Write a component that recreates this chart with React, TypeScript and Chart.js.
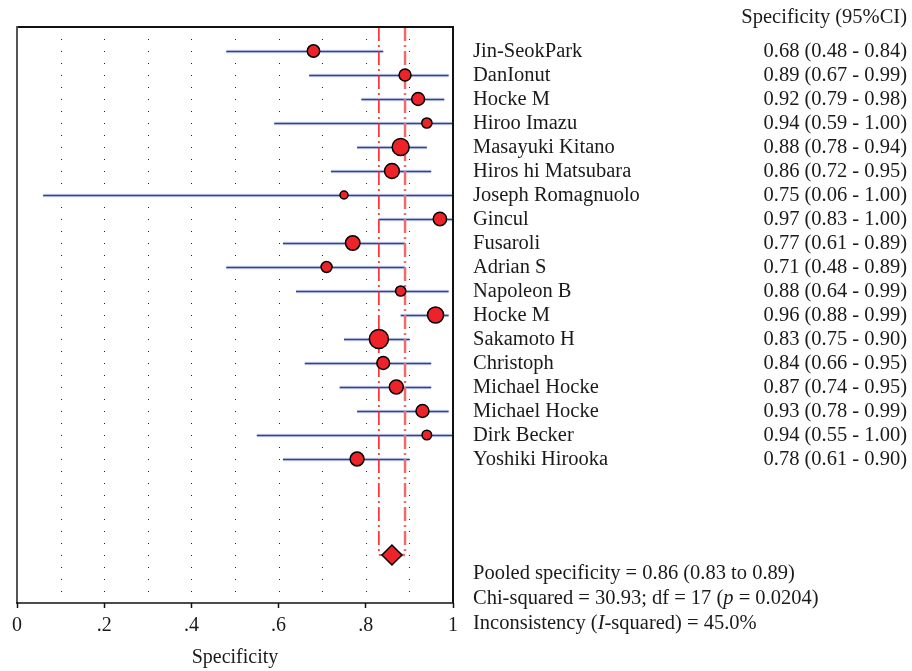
import React, { useEffect, useRef } from "react";
import { Chart, registerables } from "chart.js";

Chart.register(...registerables);

const studies = [
  "Jin-SeokPark", "DanIonut", "Hocke M", "Hiroo Imazu", "Masayuki Kitano",
  "Hiros hi Matsubara", "Joseph Romagnuolo", "Gincul", "Fusaroli", "Adrian S",
  "Napoleon B", "Hocke M", "Sakamoto H", "Christoph", "Michael Hocke",
  "Michael Hocke", "Dirk Becker", "Yoshiki Hirooka",
];
const specificity = [0.68, 0.89, 0.92, 0.94, 0.88, 0.86, 0.75, 0.97, 0.77, 0.71, 0.88, 0.96, 0.83, 0.84, 0.87, 0.93, 0.94, 0.78];
const lowerCI = [0.48, 0.67, 0.79, 0.59, 0.78, 0.72, 0.06, 0.83, 0.61, 0.48, 0.64, 0.88, 0.75, 0.66, 0.74, 0.78, 0.55, 0.61];
const upperCI = [0.84, 0.99, 0.98, 1.0, 0.94, 0.95, 1.0, 1.0, 0.89, 0.89, 0.99, 0.99, 0.9, 0.95, 0.95, 0.99, 1.0, 0.9];
// relative study weights (%)
const weights = [4.9, 4.6, 5.3, 3.5, 8.7, 6.8, 2.3, 5.6, 6.5, 3.9, 3.5, 7.9, 10.8, 5.2, 6.1, 5.3, 3.1, 6.0];

const pooled = 0.86;
const pooledLower = 0.83;
const pooledUpper = 0.89;
const pooledRow = 21;

const xTickLabels = ["0", ".2", ".4", ".6", ".8", "1"];
const headerLabel = "Specificity (95%CI)";
const axisTitle = "Specificity";
const statLines: { text: string; italic?: boolean }[][] = [
  [{ text: "Pooled specificity = 0.86 (0.83 to 0.89)" }],
  [{ text: "Chi-squared = 30.93; df = 17 (" }, { text: "p", italic: true }, { text: " = 0.0204)" }],
  [{ text: "Inconsistency (" }, { text: "I", italic: true }, { text: "-squared) = 45.0%" }],
];

const FONT = '"Liberation Serif", "Times New Roman", serif';
const RED = "#ee2229";
const TEXT_SIZE = 20.5;

const forestPlugin = {
  id: "forest",
  beforeDatasetsDraw(chart: any) {
    const { ctx, chartArea } = chart;
    const xs = chart.scales.x;
    const ys = chart.scales.y;
    ctx.save();
    // dotted vertical guides
    ctx.fillStyle = "#222";
    for (let g = 1; g <= 9; g++) {
      const px = Math.round(xs.getPixelForValue(g / 10));
      for (let r = -0.5; r <= 22.5; r += 0.5) {
        const py = Math.round(ys.getPixelForValue(r));
        ctx.fillRect(px, py, 1, 1);
      }
    }
    // CI lines
    ctx.beginPath();
    ctx.rect(chartArea.left, chartArea.top, chartArea.right - chartArea.left, chartArea.bottom - chartArea.top);
    ctx.clip();
    studies.forEach((_, i) => {
      const py = Math.round(ys.getPixelForValue(i)) + 0.5;
      const x1 = xs.getPixelForValue(lowerCI[i]);
      const x2 = xs.getPixelForValue(upperCI[i]);
      ctx.beginPath();
      ctx.strokeStyle = "rgba(170,185,225,0.5)";
      ctx.lineWidth = 3.5;
      ctx.moveTo(x1, py);
      ctx.lineTo(x2, py);
      ctx.stroke();
      ctx.beginPath();
      ctx.strokeStyle = "#2f4193";
      ctx.lineWidth = 1.3;
      ctx.moveTo(x1, py);
      ctx.lineTo(x2, py);
      ctx.stroke();
    });
    // pooled CI dashed lines
    const top = chartArea.top;
    const pyP = ys.getPixelForValue(pooledRow);
    const pxC = xs.getPixelForValue(pooled);
    const drawDash = (v: number, color: string, w: number) => {
      const px = xs.getPixelForValue(v);
      ctx.beginPath();
      ctx.strokeStyle = color;
      ctx.lineWidth = w;
      ctx.setLineDash([14, 4, 2, 4]);
      ctx.moveTo(px, top);
      ctx.lineTo(px, pyP);
      ctx.lineTo(pxC, pyP);
      ctx.stroke();
    };
    drawDash(pooledLower, "#ff1a1a", 1.5);
    drawDash(pooledUpper, "#f26a6a", 2.5);
    ctx.restore();
  },
  afterDatasetsDraw(chart: any) {
    const { ctx, chartArea } = chart;
    const { left, right, top, bottom } = chartArea;
    ctx.save();
    ctx.lineCap = "butt";
    ctx.strokeStyle = "#111";
    ctx.lineWidth = 2;
    ctx.beginPath();
    ctx.moveTo(left, top);
    ctx.lineTo(right, top);
    ctx.lineTo(right, bottom);
    ctx.stroke();
    ctx.strokeStyle = "#555";
    ctx.beginPath();
    ctx.moveTo(left, top - 1);
    ctx.lineTo(left, bottom);
    ctx.stroke();
    ctx.strokeStyle = "#111";
    ctx.lineWidth = 1.5;
    ctx.beginPath();
    ctx.moveTo(left - 1, bottom);
    ctx.lineTo(right + 1, bottom);
    ctx.stroke();
    ctx.restore();
  },
  afterDraw(chart: any) {
    const { ctx } = chart;
    const ys = chart.scales.y;
    ctx.save();
    ctx.fillStyle = "#1a1a1a";
    ctx.font = `${TEXT_SIZE}px ${FONT}`;
    ctx.textBaseline = "alphabetic";
    ctx.textAlign = "right";
    ctx.fillText(headerLabel, 907, 23);
    studies.forEach((s, i) => {
      const py = ys.getPixelForValue(i) + 6;
      ctx.textAlign = "left";
      ctx.fillText(s, 473, py);
      ctx.textAlign = "right";
      ctx.fillText(
        `${specificity[i].toFixed(2)} (${lowerCI[i].toFixed(2)} - ${upperCI[i].toFixed(2)})`,
        907,
        py
      );
    });
    ctx.textAlign = "left";
    statLines.forEach((segs, li) => {
      let x = 473;
      const y = 579 + li * 25;
      segs.forEach((sg) => {
        ctx.font = `${sg.italic ? "italic " : ""}${TEXT_SIZE}px ${FONT}`;
        ctx.fillText(sg.text, x, y);
        x += ctx.measureText(sg.text).width;
      });
    });
    ctx.restore();
  },
};

export default function App() {
  const ref = useRef<HTMLCanvasElement | null>(null);
  useEffect(() => {
    if (!ref.current) return;
    const maxW = Math.max(...weights);
    const radii = weights.map((w) => Math.sqrt(w / maxW) * 10.3 - 0.75);
    const chart = new Chart(ref.current, {
      type: "scatter",
      data: {
        datasets: [
          {
            data: specificity.map((v, i) => ({ x: v, y: i })),
            pointRadius: radii,
            pointBackgroundColor: RED,
            pointBorderColor: "#000",
            pointBorderWidth: 1.5,
          },
          {
            data: [{ x: pooled, y: pooledRow }],
            pointStyle: "rectRot",
            pointRadius: 10,
            pointBackgroundColor: RED,
            pointBorderColor: "#000",
            pointBorderWidth: 1.5,
          },
        ],
      },
      options: {
        animation: false,
        responsive: false,
        devicePixelRatio: 1,
        layout: { padding: { left: 17, right: 459, top: 27, bottom: 0 } },
        plugins: { legend: { display: false }, tooltip: { enabled: false } },
        scales: {
          x: {
            type: "linear",
            min: 0,
            max: 1,
            ticks: {
              stepSize: 0.2,
              padding: 6,
              color: "#1a1a1a",
              font: { family: FONT, size: 20 },
              callback: (_v: any, i: number) => xTickLabels[i],
            },
            grid: {
              display: true,
              drawOnChartArea: false,
              drawTicks: true,
              tickLength: 5,
              tickColor: "#111",
              tickWidth: 1.5,
            },
            border: { display: false },
            title: {
              display: true,
              text: axisTitle,
              color: "#1a1a1a",
              font: { family: FONT, size: 20 },
              padding: { top: 4, bottom: 1 },
            },
            afterFit: (scale: any) => {
              scale.height = 68;
            },
          },
          y: {
            type: "linear",
            display: false,
            min: -1,
            max: 23,
            reverse: true,
          },
        },
      },
      plugins: [forestPlugin],
    });
    return () => chart.destroy();
  }, []);
  return (
    <div style={{ position: "absolute", left: 0, top: 0, width: 912, height: 671, background: "#fff" }}>
      <canvas ref={ref} width={912} height={671} />
    </div>
  );
}
